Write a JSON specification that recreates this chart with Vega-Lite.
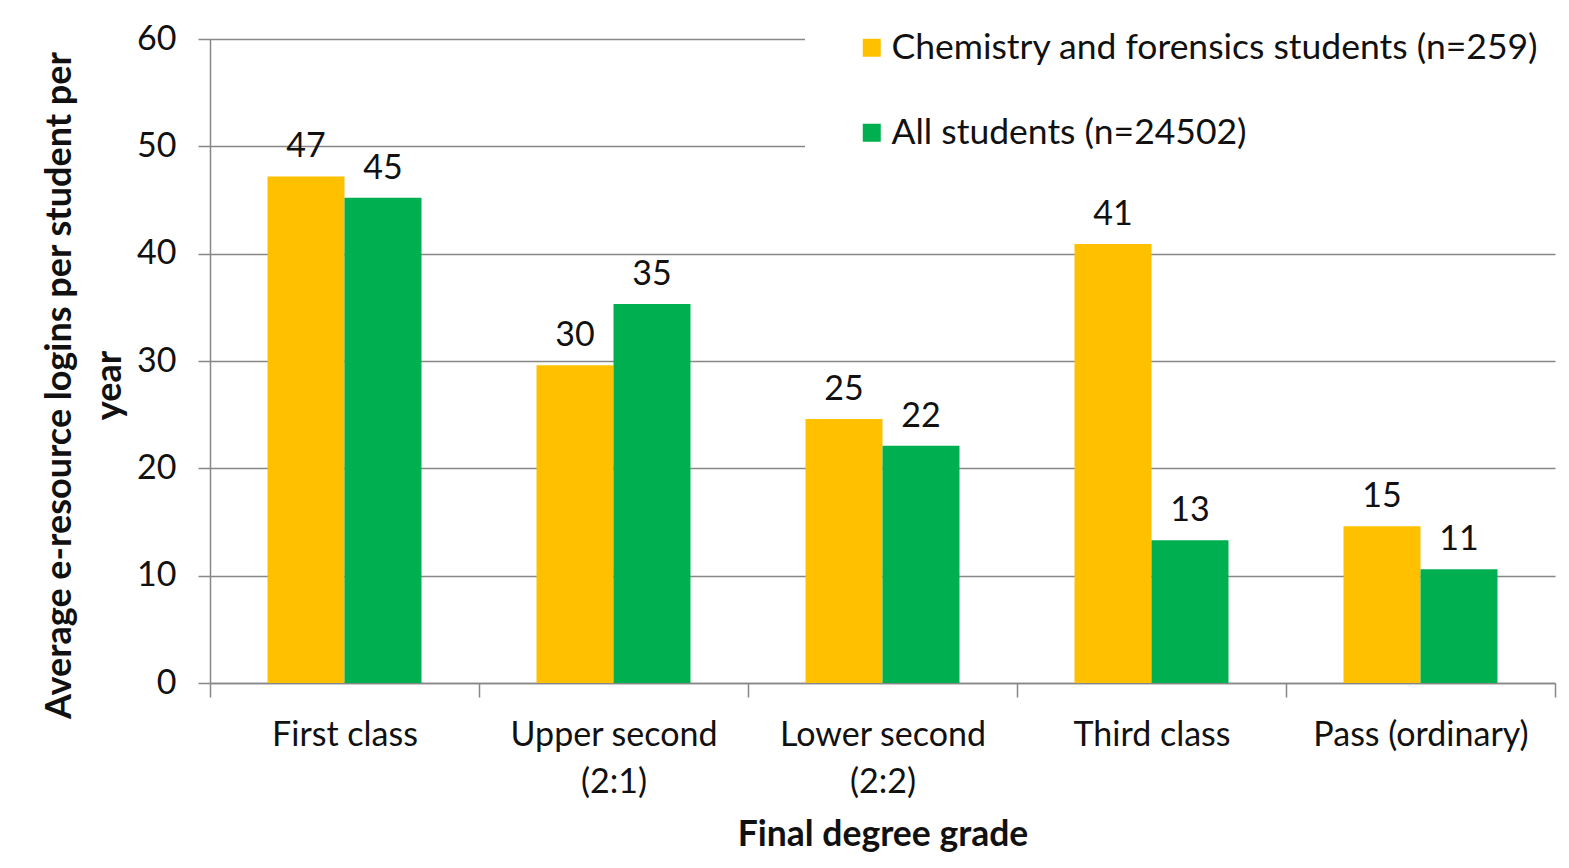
{
  "$schema": "https://vega.github.io/schema/vega-lite/v6.json",
  "width": 1345,
  "height": 644,
  "autosize": "none",
  "padding": {"left": 210, "top": 39, "right": 14, "bottom": 185},
  "background": "white",
  "config": {
    "font": "Lato",
    "view": {"stroke": null},
    "axis": {"labelColor": "#111111", "titleColor": "#111111", "domainColor": "#878787", "tickColor": "#878787", "gridColor": "#878787", "domainWidth": 1.5, "tickWidth": 1.5, "gridWidth": 1.5}
  },
  "data": {
    "values": [
      {"grade": "First class", "series": "Chemistry and forensics students (n=259)", "value": 47.2},
      {"grade": "First class", "series": "All students (n=24502)", "value": 45.2},
      {"grade": "Upper second (2:1)", "series": "Chemistry and forensics students (n=259)", "value": 29.6},
      {"grade": "Upper second (2:1)", "series": "All students (n=24502)", "value": 35.3},
      {"grade": "Lower second (2:2)", "series": "Chemistry and forensics students (n=259)", "value": 24.6},
      {"grade": "Lower second (2:2)", "series": "All students (n=24502)", "value": 22.1},
      {"grade": "Third class", "series": "Chemistry and forensics students (n=259)", "value": 40.9},
      {"grade": "Third class", "series": "All students (n=24502)", "value": 13.3},
      {"grade": "Pass (ordinary)", "series": "Chemistry and forensics students (n=259)", "value": 14.6},
      {"grade": "Pass (ordinary)", "series": "All students (n=24502)", "value": 10.6}
    ]
  },
  "encoding": {
    "x": {
      "field": "grade", "type": "nominal", "sort": null,
      "scale": {"paddingInner": 0, "paddingOuter": 0},
      "axis": {
        "title": "Final degree grade", "titleFontSize": 35.5, "titleFontWeight": "bold", "titlePadding": 18,
        "labelAngle": 0, "labelFontSize": 34, "labelPadding": 21, "labelLineHeight": 47, "labelLimit": 500,
        "labelExpr": "datum.value == 'Upper second (2:1)' ? ['Upper second', '(2:1)'] : datum.value == 'Lower second (2:2)' ? ['Lower second', '(2:2)'] : datum.value",
        "tickBand": "extent", "tickSize": 14, "grid": false
      }
    },
    "xOffset": {
      "field": "series", "type": "nominal",
      "sort": ["Chemistry and forensics students (n=259)", "All students (n=24502)"],
      "scale": {"paddingInner": 0, "paddingOuter": 0.747}
    },
    "y": {
      "field": "value", "type": "quantitative",
      "scale": {"domain": [0, 60]},
      "axis": {
        "values": [0, 10, 20, 30, 40, 50, 60], "grid": true, "tickSize": 12, "labelFontSize": 34, "labelPadding": 22,
        "title": ["Average  e-resource logins per student per", "year"], "titleFontSize": 36, "titleFontWeight": "bold",
        "titleY": 346, "titlePadding": 8, "titleLineHeight": 50, "titleLimit": 1000
      }
    }
  },
  "layer": [
    {
      "mark": {"type": "bar"},
      "encoding": {
        "color": {
          "field": "series", "type": "nominal",
          "scale": {"domain": ["Chemistry and forensics students (n=259)", "All students (n=24502)"], "range": ["#FFC000", "#00B050"]},
          "legend": {
            "title": null, "orient": "none", "legendX": 595, "legendY": -49, "padding": 40,
            "fillColor": "white", "symbolType": "square", "symbolSize": 324, "symbolStrokeWidth": 0, "symbolOffset": 9,
            "labelFontSize": 35.5, "labelColor": "#111111", "labelOffset": 2, "rowPadding": 48, "labelLimit": 900
          }
        }
      }
    },
    {
      "mark": {"type": "text", "baseline": "alphabetic", "dy": -19, "fontSize": 34, "color": "#111111"},
      "encoding": {"text": {"field": "value", "type": "quantitative", "format": ".0f"}}
    }
  ]
}
